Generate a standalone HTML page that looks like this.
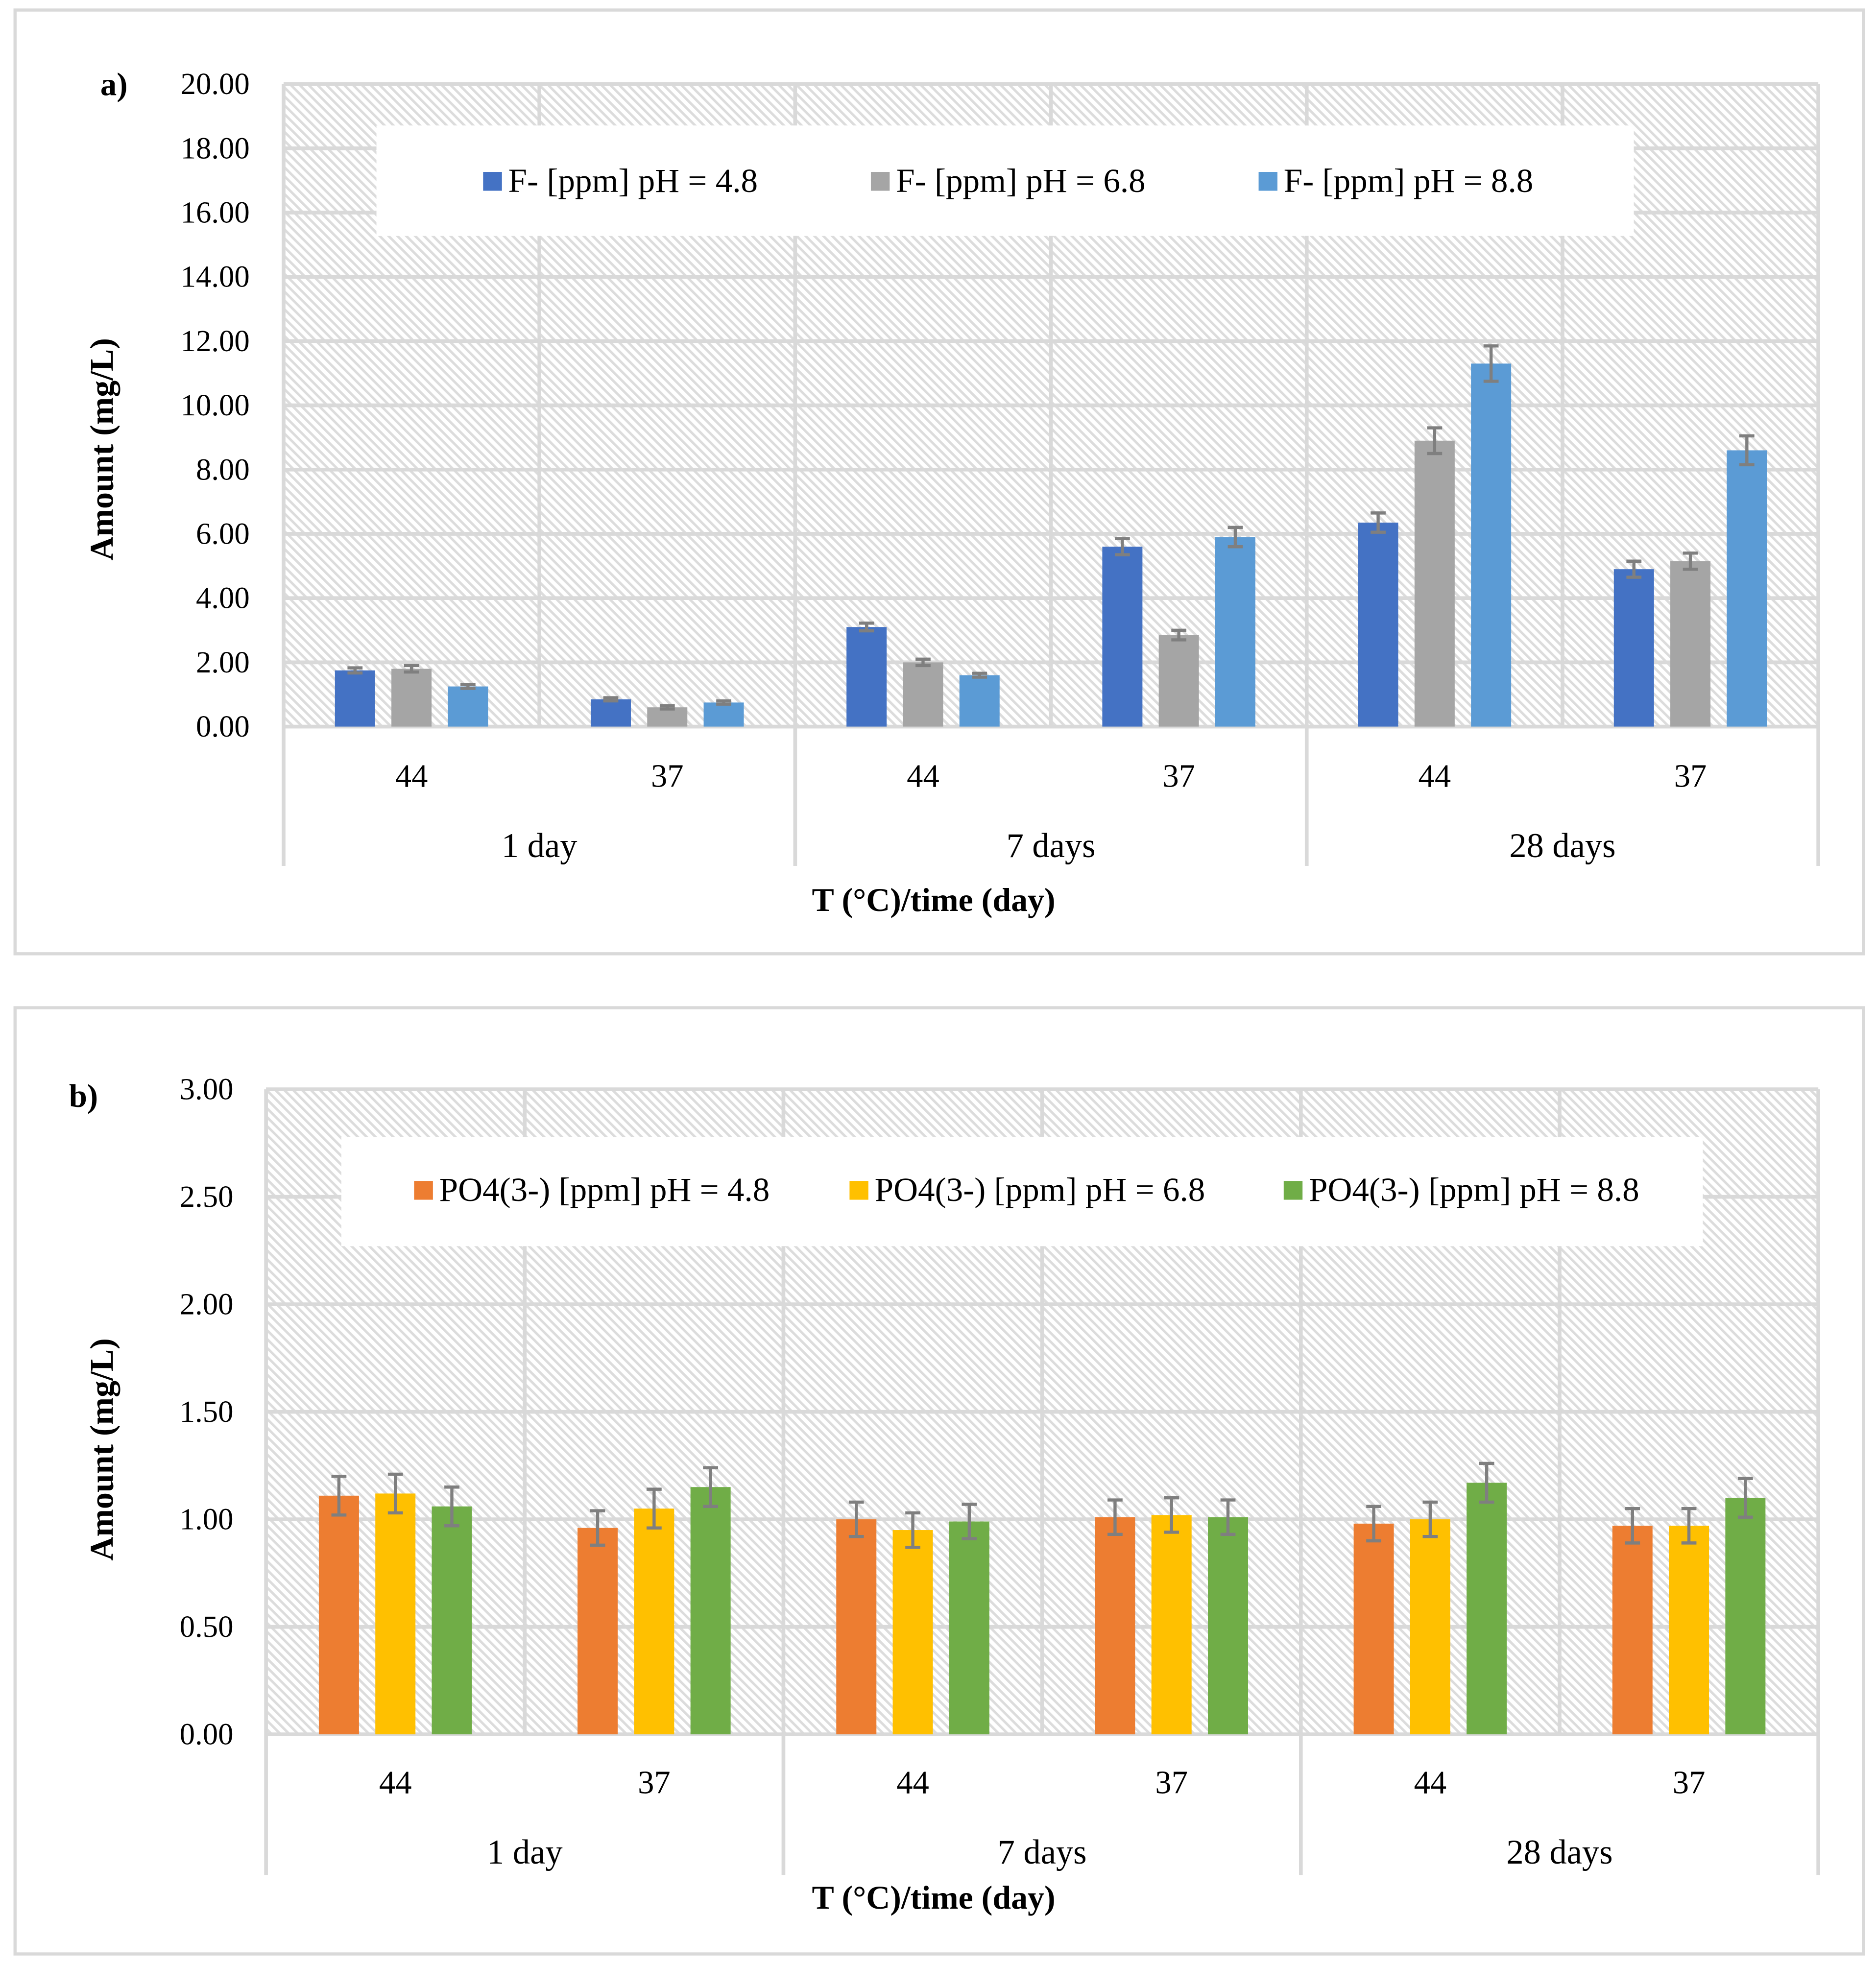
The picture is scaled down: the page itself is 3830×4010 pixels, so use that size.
<!DOCTYPE html>
<html><head><meta charset="utf-8"><style>html,body{margin:0;padding:0;background:#fff}svg{display:block}text{font-family:"Liberation Serif",serif;fill:#000}</style></head>
<body>
<svg id="s" width="3830" height="4010" viewBox="0 0 1495 1565" preserveAspectRatio="none" xmlns="http://www.w3.org/2000/svg">
<defs>
<pattern id="hatch" patternUnits="userSpaceOnUse" width="5" height="5" patternTransform="rotate(-45)">
<rect width="5" height="5" fill="#fff"/><rect width="2" height="5" fill="#dcdcdc"/>
</pattern>
</defs>
</svg>
<script>
const categories=["44","37","44","37","44","37"];
const days=["1 day","7 days","28 days"];
const aTicks=["0.00","2.00","4.00","6.00","8.00","10.00","12.00","14.00","16.00","18.00","20.00"];
const aNames=["F- [ppm] pH = 4.8","F- [ppm] pH = 6.8","F- [ppm] pH = 8.8"];
const aS1=[1.75,0.85,3.1,5.6,6.35,4.9];
const aS2=[1.8,0.6,2.0,2.85,8.9,5.15];
const aS3=[1.25,0.75,1.6,5.9,11.3,8.6];
const aE1=[0.08,0.05,0.12,0.25,0.3,0.25];
const aE2=[0.1,0.05,0.1,0.15,0.4,0.25];
const aE3=[0.06,0.05,0.06,0.3,0.55,0.45];
const bTicks=["0.00","0.50","1.00","1.50","2.00","2.50","3.00"];
const bNames=["PO4(3-) [ppm] pH = 4.8","PO4(3-) [ppm] pH = 6.8","PO4(3-) [ppm] pH = 8.8"];
const bS1=[1.11,0.96,1.0,1.01,0.98,0.97];
const bS2=[1.12,1.05,0.95,1.02,1.0,0.97];
const bS3=[1.06,1.15,0.99,1.01,1.17,1.10];
const bE1=[0.09,0.08,0.08,0.08,0.08,0.08];
const bE2=[0.09,0.09,0.08,0.08,0.08,0.08];
const bE3=[0.09,0.09,0.08,0.08,0.09,0.09];

const svg=document.getElementById('s');
const NS="http://www.w3.org/2000/svg";
function mk(tag,attrs,parent,txt){const e=document.createElementNS(NS,tag);for(const k in attrs)e.setAttribute(k,attrs[k]);if(txt!==undefined)e.textContent=txt;(parent||svg).appendChild(e);return e;}

function chart(cfg){
  const g=mk('g',{});
  
  
  const fr=mk('rect',{x:cfg.fx,y:cfg.fy,width:cfg.fw,height:cfg.fh,fill:'#fff',stroke:'#d9d9d9','stroke-width':2.5},g);
  
  
  const L=cfg.left,R=cfg.right,T=cfg.top,B=cfg.bottom,max=cfg.max;
  const y=v=>B-(v/max)*(B-T);
  const cw=(R-L)/categories.length;
  const x=i=>L+cw*(i+0.5);
  const bg=mk('rect',{x:L,y:T,width:R-L,height:B-T,fill:'url(#hatch)'},g);
  
  
  cfg.ticks.forEach((t,i)=>{
    const v=max*i/(cfg.ticks.length-1);
    const gl=mk('line',{x1:L,x2:R,y1:y(v),y2:y(v),stroke:'#d9d9d9','stroke-width':3},g);
    
    
    const tl=mk('text',{x:cfg.tickX,y:y(v)+8,'text-anchor':'end','font-size':24.5},g,t);
    
    
  });
  for(let i=0;i<=categories.length;i++){
    const xx=L+cw*i;
    const ext=(i%2===0)?cfg.sepBottom:B;
    const vl=mk('line',{x1:xx,x2:xx,y1:T,y2:ext,stroke:'#d9d9d9','stroke-width':3},g);
    
    
  }
  const lb=mk('rect',{x:cfg.lgx,y:cfg.lgy,width:cfg.lgw,height:cfg.lgh,fill:'#fff'},g);
  
  
  cfg.names.forEach((n,k)=>{
    const sq=mk('rect',{x:cfg.lgItems[k],y:cfg.lgTextY-16,width:15,height:15,fill:cfg.colors[k]},g);
    
    
    const lt=mk('text',{x:cfg.lgItems[k]+20,y:cfg.lgTextY,'font-size':27},g,n);
    
    
  });
  const bw=32,off=45;
  cfg.series.forEach((s,k)=>{
    s.forEach((v,i)=>{
      const cx=x(i)+(k-1)*off;
      const b=mk('rect',{x:cx-bw/2,y:y(v),width:bw,height:B-y(v),fill:cfg.colors[k]},g);
      
      
      const e=cfg.errs[k][i];
      const ep=mk('path',{d:`M${cx},${y(v+e)}V${y(v-e)}M${cx-6},${y(v+e)}H${cx+6}M${cx-6},${y(v-e)}H${cx+6}`,stroke:'#7f7f7f','stroke-width':2.5,fill:'none'},g);
      
      
    });
  });
  categories.forEach((c,i)=>{
    const t=mk('text',{x:x(i),y:cfg.catY,'text-anchor':'middle','font-size':26},g,c);
    
    
  });
  days.forEach((d,j)=>{
    const t=mk('text',{x:L+cw*(2*j+1),y:cfg.dayY,'text-anchor':'middle','font-size':27.5},g,d);
    
    
  });
  const xt=mk('text',{x:744,y:cfg.xTitleY,'text-anchor':'middle','font-size':26.5,'font-weight':'bold'},g,'T (°C)/time (day)');
  
  
  const yt=mk('text',{x:0,y:0,'text-anchor':'middle','font-size':26.5,'font-weight':'bold',transform:`translate(90,${cfg.yTitleC}) rotate(-90)`},g,'Amount (mg/L)');
  
  
  const pl=mk('text',{x:cfg.panelX,y:cfg.panelY,'font-size':26,'font-weight':'bold'},g,cfg.panel);
  
  
}

chart({name:'chart-a-fluoride',fx:12,fy:8,fw:1473,fh:752,left:226,right:1449,top:67,bottom:579,max:20,
  ticks:aTicks,tickX:199,sepBottom:690,names:aNames,colors:['#4472C4','#A5A5A5','#5B9BD5'],
  series:[aS1,aS2,aS3],errs:[aE1,aE2,aE3],lgx:300,lgy:100,lgw:1002,lgh:88,lgItems:[385,694,1003],lgTextY:153,
  catY:627,dayY:683,xTitleY:726,yTitleC:358,panel:'a)',panelX:80,panelY:76});
chart({name:'chart-b-phosphate',fx:12,fy:803,fw:1473,fh:754,left:212,right:1449,top:868,bottom:1382,max:3,
  ticks:bTicks,tickX:186,sepBottom:1494,names:bNames,colors:['#ED7D31','#FFC000','#70AD47'],
  series:[bS1,bS2,bS3],errs:[bE1,bE2,bE3],lgx:272,lgy:906,lgw:1085,lgh:87,lgItems:[330,677,1023],lgTextY:957,
  catY:1429,dayY:1485,xTitleY:1521,yTitleC:1155,panel:'b)',panelX:55,panelY:882});
</script>
</body></html>
